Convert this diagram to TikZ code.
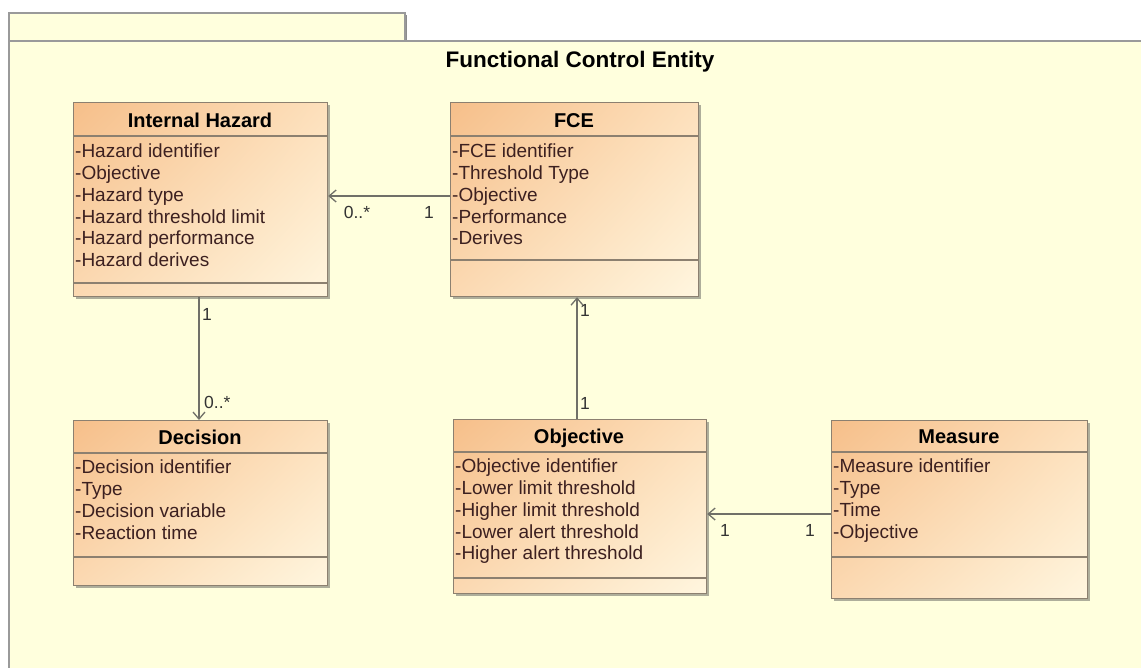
\documentclass[tikz,border=0pt]{standalone}
\usepackage{fontspec}
\setmainfont{Liberation Sans}
\usetikzlibrary{arrows.meta,shadows,shadings}
\definecolor{pkgfill}{HTML}{FFFFDD}
\definecolor{pkgline}{HTML}{9A9A9A}
\definecolor{boxUL}{HTML}{F6BF8A}
\definecolor{boxUR}{HTML}{FDE0BC}
\definecolor{boxLL}{HTML}{FBD9B2}
\definecolor{boxLR}{HTML}{FFF6DF}
\definecolor{boxline}{HTML}{8C8070}
\definecolor{attrcol}{HTML}{3C2020}
\definecolor{linkcol}{HTML}{707068}
\tikzset{
  cls/.style={rectangle, draw=boxline, line width=1.2pt,
    upper left=boxUL, upper right=boxUR, lower left=boxLL, lower right=boxLR,
    drop shadow={shadow xshift=2.5pt, shadow yshift=-2.5pt, opacity=0.45, fill=black!70}, inner sep=0pt},
  clsname/.style={font=\fontsize{20}{22}\selectfont\bfseries, text=black, anchor=base, inner sep=0pt},
  attrs/.style={font=\fontsize{19}{21.7}\selectfont, text=attrcol, align=left, anchor=north west, inner sep=0pt},
  sep/.style={draw=boxline, line width=1.2pt},
  assoc/.style={draw=linkcol, line width=1.6pt, -{Straight Barb[length=7pt,width=12pt,line width=1.3pt]}},
  mult/.style={font=\fontsize{17.5}{19}\selectfont, text=black!80, inner sep=0pt}
}
\begin{document}
\begin{tikzpicture}[x=1pt,y=-1pt]
\useasboundingbox (0,0) rectangle (1141,667);
% package
\fill[white] (0,0) rectangle (1141,667);
\draw[pkgline, line width=1.4pt, fill=pkgfill] (9,41) -- (9,13) -- (405,13) -- (405,41);
\draw[black!45, line width=1.2pt] (406.5,15) -- (406.5,41);
\fill[pkgfill] (9,41) rectangle (1145,672);
\draw[pkgline, line width=1.4pt] (9,672) -- (9,41) -- (1145,41);
\node[font=\fontsize{22.5}{25}\selectfont\bfseries, anchor=base] (title) at (580,67) {Functional Control Entity};

% classes
\node[cls, minimum width=254pt, minimum height=194pt, anchor=north west] (ih) at (73,102) {};
\node[cls, minimum width=248pt, minimum height=194pt, anchor=north west] (fce) at (450,102) {};
\node[cls, minimum width=254pt, minimum height=165pt, anchor=north west] (dec) at (73,420) {};
\node[cls, minimum width=253pt, minimum height=174pt, anchor=north west] (obj) at (453,419) {};
\node[cls, minimum width=256pt, minimum height=178pt, anchor=north west] (meas) at (831,420) {};

% compartments
\draw[sep] (73,136) -- (327,136) (73,283) -- (327,283);
\draw[sep] (450,136) -- (698,136) (450,260) -- (698,260);
\draw[sep] (73,453) -- (327,453) (73,557) -- (327,557);
\draw[sep] (453,452) -- (706,452) (453,578) -- (706,578);
\draw[sep] (831,452) -- (1087,452) (831,557) -- (1087,557);

% names
\node[clsname] (ihn) at (200,127) {Internal Hazard};
\node[clsname] (fcen) at (574,127) {FCE};
\node[clsname] (decn) at (200,444) {Decision};
\node[clsname] (objn) at (579,443) {Objective};
\node[clsname] (measn) at (959,443) {Measure};

% attributes
\node[attrs] (iha) at (75,144) {-Hazard identifier\\-Objective\\-Hazard type\\-Hazard threshold limit\\-Hazard performance\\-Hazard derives};
\node[attrs] (fcea) at (452,144) {-FCE identifier\\-Threshold Type\\-Objective\\-Performance\\-Derives};
\node[attrs] (deca) at (75,460) {-Decision identifier\\-Type\\-Decision variable\\-Reaction time};
\node[attrs] (obja) at (455,459) {-Objective identifier\\-Lower limit threshold\\-Higher limit threshold\\-Lower alert threshold\\-Higher alert threshold};
\node[attrs] (measa) at (833,459) {-Measure identifier\\-Type\\-Time\\-Objective};

% associations
\draw[assoc] (fce.west |- 0,196) -- (ih.east |- 0,196);
\draw[assoc] (ih.south -| 199,0) -- (dec.north -| 199,0);
\draw[assoc] (obj.north -| 577,0) -- (fce.south -| 577,0);
\draw[assoc] (meas.west |- 0,514) -- (obj.east |- 0,514);

% multiplicities
\node[mult, anchor=base] (m1) at (357,218) {0..*};
\node[mult, anchor=base] (m2) at (429,218) {1};
\node[mult, anchor=base] (m3) at (207,320) {1};
\node[mult, anchor=base west] (m4) at (204,408) {0..*};
\node[mult] (m5) at (585,310) {1};
\node[mult] (m6) at (585,403) {1};
\node[mult] (m7) at (725,530) {1};
\node[mult] (m8) at (810,530) {1};
\end{tikzpicture}
\end{document}
